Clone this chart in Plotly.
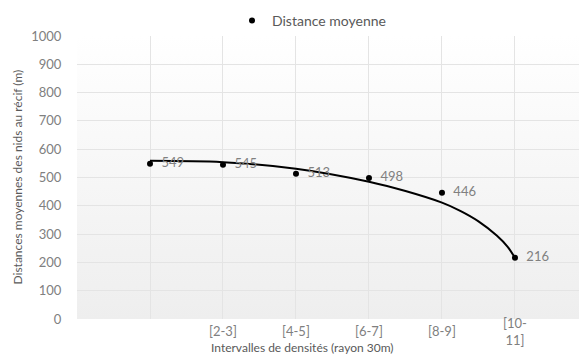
import base64
import plotly.graph_objects as go

# Data
categories = ["", "[2-3]", "[4-5]", "[6-7]", "[8-9]", "[10-<br>11]"]
positions = [1, 2, 3, 4, 5, 6]
distance_moyenne = [549, 545, 513, 498, 446, 216]

# Trend curve
trend_x = [1, 2, 3, 4, 4.5, 5, 5.25, 5.5, 5.75, 5.9, 6]
trend_y = [559, 554, 531, 485, 452, 411, 382, 345, 295, 255, 216]

FONT = "Lato"
TICK_COLOR = "#808080"
TITLE_COLOR = "#595959"

# Vertical gradient background for the plot area (white -> light grey)
svg = ('<svg xmlns="http://www.w3.org/2000/svg" width="10" height="100" preserveAspectRatio="none">'
       '<defs><linearGradient id="g" x1="0" y1="0" x2="0" y2="1">'
       '<stop offset="0" stop-color="#ffffff"/><stop offset="1" stop-color="#eeeeee"/>'
       '</linearGradient></defs><rect width="10" height="100" fill="url(#g)"/></svg>')
bg_uri = "data:image/svg+xml;base64," + base64.b64encode(svg.encode()).decode()

fig = go.Figure()

fig.add_trace(go.Scatter(
    x=trend_x, y=trend_y, mode="lines", line=dict(color="black", width=2, shape="spline", smoothing=1.0),
    showlegend=False, hoverinfo="skip"))

fig.add_trace(go.Scatter(
    x=positions, y=distance_moyenne, mode="markers+text", name="Distance moyenne",
    marker=dict(color="black", size=6),
    text=["  " + str(v) for v in distance_moyenne], textposition="middle right",
    textfont=dict(family=FONT, size=13, color=TICK_COLOR),
    cliponaxis=False))

# Category labels under the axis
for p, c in zip(positions, categories):
    if c:
        fig.add_annotation(x=p, y=-0.043, xref="x", yref="paper", text=c, showarrow=False,
                           yanchor="middle", xanchor="center",
                           font=dict(family=FONT, size=13, color=TICK_COLOR))

fig.add_annotation(x=(302 - 77) / 502, y=-0.1, xref="paper", yref="paper",
                   text="Intervalles de densités (rayon 30m)", showarrow=False,
                   xanchor="center", yanchor="middle",
                   font=dict(family=FONT, size=12, color=TITLE_COLOR))
fig.add_annotation(x=(17 - 77) / 502, y=0.5, xref="paper", yref="paper",
                   text="Distances moyennes des nids au récif (m)", showarrow=False,
                   textangle=-90, xanchor="center", yanchor="middle",
                   font=dict(family=FONT, size=12, color=TITLE_COLOR))

fig.add_layout_image(source=bg_uri, xref="paper", yref="paper", x=0, y=1, sizex=1, sizey=1,
                     xanchor="left", yanchor="top", sizing="stretch", layer="below")

fig.update_layout(
    width=579, height=354,
    margin=dict(l=77, r=0, t=36, b=35, autoexpand=False),
    paper_bgcolor="white", plot_bgcolor="white",
    font=dict(family=FONT, size=13, color=TICK_COLOR),
    showlegend=True,
    legend=dict(orientation="h", x=(232 - 77) / 502, y=1.053, xanchor="left", yanchor="middle",
                font=dict(family=FONT, size=14, color=TITLE_COLOR), bgcolor="rgba(0,0,0,0)",
                itemwidth=30),
    xaxis=dict(range=[0, 6.877], tickvals=[0, 1, 2, 3, 4, 5, 6, 7], ticktext=[""] * 8,
               showgrid=True, gridcolor="#e4e4e4", gridwidth=1, zeroline=False,
               showline=False, fixedrange=True, automargin=False),
    yaxis=dict(range=[0, 1000], dtick=100, showgrid=True, gridcolor="#e4e4e4", gridwidth=1,
               zeroline=False, showline=False, ticks="outside", ticklen=12, automargin=False,
               tickcolor="rgba(0,0,0,0)", tickfont=dict(family=FONT, size=13, color=TICK_COLOR)),
)

fig.write_html("out.html", config={"displayModeBar": False},
               post_script="document.body.style.margin='0px';document.body.style.overflow='hidden';")
